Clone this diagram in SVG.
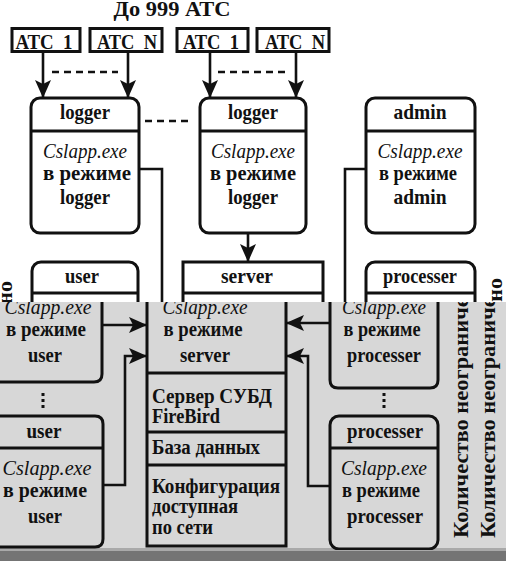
<svg xmlns="http://www.w3.org/2000/svg" width="506" height="561" viewBox="0 0 506 561">
<defs>
<style>
text { font-family: "Liberation Serif", "Times New Roman", serif; font-size: 21px; font-weight: bold; fill: #111; }
.c { text-anchor: middle; }
.it { font-style: italic; font-weight: normal; }
.box { fill: none; stroke: #111; stroke-width: 3; }
.ln { fill: none; stroke: #111; stroke-width: 2.6; }
.dash { fill: none; stroke: #111; stroke-width: 2.6; stroke-dasharray: 7 5; }
.vt { font-size: 22px; }
.sm { font-size: 20px; }
</style>
<marker id="ah" viewBox="0 0 18 16" refX="17" refY="8" markerWidth="18" markerHeight="16" markerUnits="userSpaceOnUse" orient="auto">
<path d="M0,0 L18,8 L0,16 L4,8 z" fill="#111"/>
</marker>
<clipPath id="low"><rect x="0" y="302" width="506" height="248"/></clipPath>
</defs>
<rect x="0" y="0" width="506" height="561" fill="#fff"/>

<!-- upper (white) part -->
<g id="upper">
<text class="c" x="172" y="16" style="font-size:22px" textLength="117" lengthAdjust="spacingAndGlyphs">До 999 АТС</text>
<g id="atc1a"><rect class="box" x="12" y="28.5" width="68" height="23"/><text class="c" x="44" y="49" textLength="57" lengthAdjust="spacingAndGlyphs">АТС_1</text></g>
<g id="atcNa"><rect class="box" x="90" y="28.5" width="72" height="23"/><text class="c" x="127" y="49" textLength="60" lengthAdjust="spacingAndGlyphs">АТС_N</text></g>
<g id="atc1b"><rect class="box" x="177" y="28.5" width="71" height="23"/><text class="c" x="211" y="49" textLength="56" lengthAdjust="spacingAndGlyphs">АТС_1</text></g>
<g id="atcNb"><rect class="box" x="257" y="28.5" width="72" height="23"/><text class="c" x="295" y="49" textLength="60" lengthAdjust="spacingAndGlyphs">АТС_N</text></g>

<g id="logger1">
<rect class="box" x="31" y="98" width="108" height="135" rx="9"/>
<line class="box" x1="31" y1="131" x2="139" y2="131"/>
<text class="c" x="85" y="119" textLength="50" lengthAdjust="spacingAndGlyphs">logger</text>
<text class="c it" x="85" y="158" textLength="84" lengthAdjust="spacingAndGlyphs">Cslapp.exe</text>
<text class="c" x="87" y="180" textLength="88" lengthAdjust="spacingAndGlyphs">в режиме</text>
<text class="c" x="85" y="204" textLength="50" lengthAdjust="spacingAndGlyphs">logger</text>
</g>
<g id="logger2">
<rect class="box" x="200" y="98" width="106" height="135" rx="9"/>
<line class="box" x1="200" y1="131" x2="306" y2="131"/>
<text class="c" x="253" y="119" textLength="50" lengthAdjust="spacingAndGlyphs">logger</text>
<text class="c it" x="253" y="158" textLength="84" lengthAdjust="spacingAndGlyphs">Cslapp.exe</text>
<text class="c" x="253" y="180" textLength="86" lengthAdjust="spacingAndGlyphs">в режиме</text>
<text class="c" x="253" y="204" textLength="50" lengthAdjust="spacingAndGlyphs">logger</text>
</g>
<g id="admin">
<rect class="box" x="366" y="98" width="109" height="135" rx="9"/>
<line class="box" x1="366" y1="131" x2="475" y2="131"/>
<text class="c" x="420" y="119" textLength="53" lengthAdjust="spacingAndGlyphs">admin</text>
<text class="c it" x="420" y="158" textLength="85" lengthAdjust="spacingAndGlyphs">Cslapp.exe</text>
<text class="c" x="418" y="180" textLength="78" lengthAdjust="spacingAndGlyphs">в режиме</text>
<text class="c" x="420" y="204" textLength="53" lengthAdjust="spacingAndGlyphs">admin</text>
</g>
<g id="user-top">
<rect class="box" x="32" y="262" width="106" height="70" rx="9"/>
<line class="box" x1="32" y1="293" x2="138" y2="293"/>
<text class="c" x="82" y="283" textLength="34" lengthAdjust="spacingAndGlyphs">user</text>
</g>
<g id="server-top">
<rect class="box" x="183" y="262" width="140" height="70"/>
<line class="box" x1="183" y1="293" x2="323" y2="293"/>
<text class="c" x="247" y="283" textLength="52" lengthAdjust="spacingAndGlyphs">server</text>
</g>
<g id="processer-top">
<rect class="box" x="366" y="262" width="109" height="70" rx="9"/>
<line class="box" x1="366" y1="293" x2="475" y2="293"/>
<text class="c" x="420" y="283" textLength="74" lengthAdjust="spacingAndGlyphs">processer</text>
</g>
<text class="vt" transform="translate(12,281) rotate(-90)" text-anchor="end" textLength="260" lengthAdjust="spacingAndGlyphs">Количество неограничено</text>
<text class="vt" transform="translate(502,278) rotate(-90)" text-anchor="end" textLength="260" lengthAdjust="spacingAndGlyphs">Количество неограничено</text>
</g>

<g id="connectors-upper">
<path class="ln" d="M43,52 V97" marker-end="url(#ah)"/>
<path class="ln" d="M128,52 V97" marker-end="url(#ah)"/>
<path class="ln" d="M210,52 V97" marker-end="url(#ah)"/>
<path class="ln" d="M296,52 V97" marker-end="url(#ah)"/>
<path class="dash" d="M52,72 H118"/>
<path class="dash" d="M218,72 H286"/>
<path class="dash" d="M145,121 H189"/>
<path class="ln" d="M139,169 H162 V310"/>
<path class="ln" d="M366,169 H345 V310"/>
<path class="ln" d="M248,233 V261" marker-end="url(#ah)"/>
</g>

<!-- grey lower part -->
<rect x="0" y="302" width="506" height="248" fill="#d7d7d7"/>
<rect x="0" y="548" width="506" height="3" fill="#a9a9a9"/>
<rect x="0" y="551" width="506" height="10" fill="#747474"/>

<g clip-path="url(#low)">
<g id="user1">
<path class="box" d="M102,290 V374 Q102,382 94,382 H-10"/>
<text class="c it" x="48" y="314" textLength="87" lengthAdjust="spacingAndGlyphs">Cslapp.exe</text>
<text class="c" x="46" y="336" textLength="80" lengthAdjust="spacingAndGlyphs">в режиме</text>
<text class="c" x="45" y="362" textLength="34" lengthAdjust="spacingAndGlyphs">user</text>
</g>
<path class="ln" d="M43,393 V411" style="stroke-dasharray:3 3;stroke-width:3"/>
<g id="user2">
<path class="box" d="M-10,416 H95 Q103,416 103,424 V539 Q103,547 95,547 H-10"/>
<line class="box" x1="-10" y1="448" x2="103" y2="448"/>
<text class="c" x="44" y="438" textLength="35" lengthAdjust="spacingAndGlyphs">user</text>
<text class="c it" x="47" y="475" textLength="89" lengthAdjust="spacingAndGlyphs">Cslapp.exe</text>
<text class="c" x="45" y="497" textLength="84" lengthAdjust="spacingAndGlyphs">в режиме</text>
<text class="c" x="45" y="523" textLength="34" lengthAdjust="spacingAndGlyphs">user</text>
</g>
<g id="server">
<rect class="box" x="147" y="290" width="139" height="256"/>
<line class="box" x1="147" y1="373" x2="286" y2="373"/>
<line class="box" x1="147" y1="432" x2="286" y2="432"/>
<line class="box" x1="147" y1="465" x2="286" y2="465"/>
<text class="c it" x="205" y="314" textLength="85" lengthAdjust="spacingAndGlyphs">Cslapp.exe</text>
<text class="c" x="203" y="336" textLength="79" lengthAdjust="spacingAndGlyphs">в режиме</text>
<text class="c" x="205" y="362" textLength="50" lengthAdjust="spacingAndGlyphs">server</text>
<text class="sm" x="152" y="403" textLength="120" lengthAdjust="spacingAndGlyphs">Сервер СУБД</text>
<text class="sm" x="152" y="423" textLength="68" lengthAdjust="spacingAndGlyphs">FireBird</text>
<text class="sm" x="152" y="454" textLength="108" lengthAdjust="spacingAndGlyphs">База данных</text>
<text class="sm" x="152" y="493" textLength="128" lengthAdjust="spacingAndGlyphs">Конфигурация</text>
<text class="sm" x="152" y="513" textLength="86" lengthAdjust="spacingAndGlyphs">доступная</text>
<text class="sm" x="152" y="534" textLength="61" lengthAdjust="spacingAndGlyphs">по сети</text>
</g>
<g id="processer1">
<path class="box" d="M330,290 V380 Q330,388 338,388 H430 Q438,388 438,380 V290"/>
<text class="c it" x="384" y="314" textLength="84" lengthAdjust="spacingAndGlyphs">Cslapp.exe</text>
<text class="c" x="382" y="336" textLength="77" lengthAdjust="spacingAndGlyphs">в режиме</text>
<text class="c" x="384" y="362" textLength="74" lengthAdjust="spacingAndGlyphs">processer</text>
</g>
<path class="ln" d="M384,393 V411" style="stroke-dasharray:3 3;stroke-width:3"/>
<g id="processer2">
<rect class="box" x="330" y="416" width="108" height="133" rx="9"/>
<line class="box" x1="330" y1="448" x2="438" y2="448"/>
<text class="c" x="385" y="438" textLength="76" lengthAdjust="spacingAndGlyphs">processer</text>
<text class="c it" x="384" y="475" textLength="86" lengthAdjust="spacingAndGlyphs">Cslapp.exe</text>
<text class="c" x="381" y="497" textLength="78" lengthAdjust="spacingAndGlyphs">в режиме</text>
<text class="c" x="385" y="523" textLength="76" lengthAdjust="spacingAndGlyphs">processer</text>
</g>
<text class="vt" transform="translate(468,538) rotate(-90)" textLength="265" lengthAdjust="spacingAndGlyphs">Количество неограничено</text>
<text class="vt" transform="translate(495,538) rotate(-90)" textLength="265" lengthAdjust="spacingAndGlyphs">Количество неограничено</text>
<g id="connectors-lower">
<path class="ln" d="M102,325 H146" marker-end="url(#ah)"/>
<path class="ln" d="M103,485 H125 V356 H146" marker-end="url(#ah)"/>
<path class="ln" d="M330,323 H287" marker-end="url(#ah)"/>
<path class="ln" d="M330,486 H308 V356 H287" marker-end="url(#ah)"/>
</g>
</g>
</svg>
